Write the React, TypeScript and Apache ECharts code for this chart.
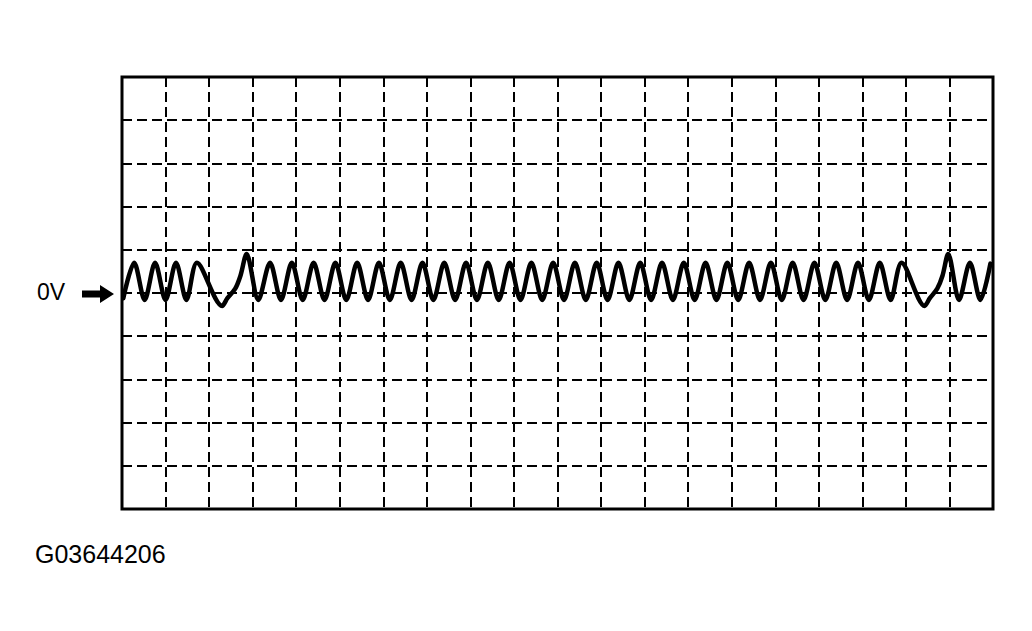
import React, { useEffect, useRef } from "react";
import * as echarts from "echarts";

// Oscilloscope screen: 20 horizontal divisions, 10 vertical divisions (0 V at centre line)
const xDivisions = [0, 20];
const yDivisions = [-5, 5];

// Waveform (x in divisions, y in divisions above 0 V)
const waveX = [
  0.03, 0.28, 0.52, 0.76, 1.0, 1.24, 1.48, 1.72,
  2.3, 2.42, 2.6, 2.72, 2.86, 3.13,
  3.4, 3.65, 3.9, 4.15, 4.4, 4.65, 4.9, 5.15, 5.4, 5.65, 5.9, 6.15, 6.4, 6.65, 6.9, 7.15,
  7.4, 7.65, 7.9, 8.15, 8.4, 8.65, 8.9, 9.15, 9.4, 9.65, 9.9, 10.15, 10.4, 10.65, 10.9, 11.15,
  11.4, 11.65, 11.9, 12.15, 12.4, 12.65, 12.9, 13.15, 13.4, 13.65, 13.9, 14.15, 14.4, 14.65,
  14.9, 15.15, 15.4, 15.65, 15.9, 16.15, 16.4, 16.65, 16.9, 17.15, 17.4, 17.65, 17.9,
  18.43, 18.55, 18.72, 18.84, 18.97, 19.22, 19.47, 19.71, 19.94,
];
const waveY = [
  -0.12, 0.7, -0.16, 0.7, -0.16, 0.7, -0.16, 0.7,
  -0.3, -0.12, 0.1, 0.4, 0.9, -0.16,
  0.7, -0.16, 0.7, -0.16, 0.7, -0.16, 0.7, -0.16, 0.7, -0.16, 0.7, -0.16, 0.7, -0.16, 0.7, -0.16,
  0.7, -0.16, 0.7, -0.16, 0.7, -0.16, 0.7, -0.16, 0.7, -0.16, 0.7, -0.16, 0.7, -0.16, 0.7, -0.16,
  0.7, -0.16, 0.7, -0.16, 0.7, -0.16, 0.7, -0.16, 0.7, -0.16, 0.7, -0.16, 0.7, -0.16,
  0.7, -0.16, 0.7, -0.16, 0.7, -0.16, 0.7, -0.16, 0.7, -0.16, 0.7, -0.16, 0.7,
  -0.3, -0.12, 0.1, 0.4, 0.9, -0.16, 0.7, -0.16, 0.68,
];

const zeroLabel = "0V";
const figureCode = "G03644206";

export default function App() {
  const ref = useRef<HTMLDivElement>(null);

  useEffect(() => {
    document.body.style.margin = "0";
    if (!ref.current) return;
    const chart = echarts.init(ref.current, undefined, { renderer: "svg" });
    const dash = { color: "#000", width: 2, type: [10, 5] as number[] };
    chart.setOption({
      animation: false,
      backgroundColor: "#fff",
      grid: {
        left: 122,
        right: 39,
        top: 77,
        bottom: 122,
        show: true,
        borderColor: "#000",
        borderWidth: 3,
        backgroundColor: "transparent",
      },
      xAxis: {
        type: "value",
        min: xDivisions[0],
        max: xDivisions[1],
        interval: 1,
        axisLine: { show: false },
        axisTick: { show: false },
        axisLabel: { show: false },
        splitLine: { show: true, lineStyle: dash },
      },
      yAxis: {
        type: "value",
        min: yDivisions[0],
        max: yDivisions[1],
        interval: 1,
        axisLine: { show: false },
        axisTick: { show: false },
        axisLabel: { show: false },
        splitLine: { show: true, lineStyle: dash },
      },
      series: [
        {
          type: "line",
          data: waveX.map((x, i) => [x, waveY[i]]),
          smooth: 0.3,
          showSymbol: false,
          symbol: "none",
          lineStyle: { color: "#000", width: 4.5, join: "round", cap: "round" },
          z: 5,
        },
      ],
      graphic: [
        {
          type: "text",
          left: 37,
          top: 280,
          style: {
            text: zeroLabel,
            fill: "#000",
            font: '23px "Liberation Sans", Arial, sans-serif',
          },
        },
        {
          type: "polygon",
          shape: {
            points: [
              [82, 290.5],
              [100, 290.5],
              [100, 285],
              [114, 294],
              [100, 303],
              [100, 297.5],
              [82, 297.5],
            ],
          },
          style: { fill: "#000" },
        },
        {
          type: "text",
          left: 35,
          top: 541,
          style: {
            text: figureCode,
            fill: "#000",
            font: '25px "Liberation Sans", Arial, sans-serif',
          },
        },
      ],
    });
    return () => chart.dispose();
  }, []);

  return <div ref={ref} style={{ width: 1032, height: 631 }} />;
}
